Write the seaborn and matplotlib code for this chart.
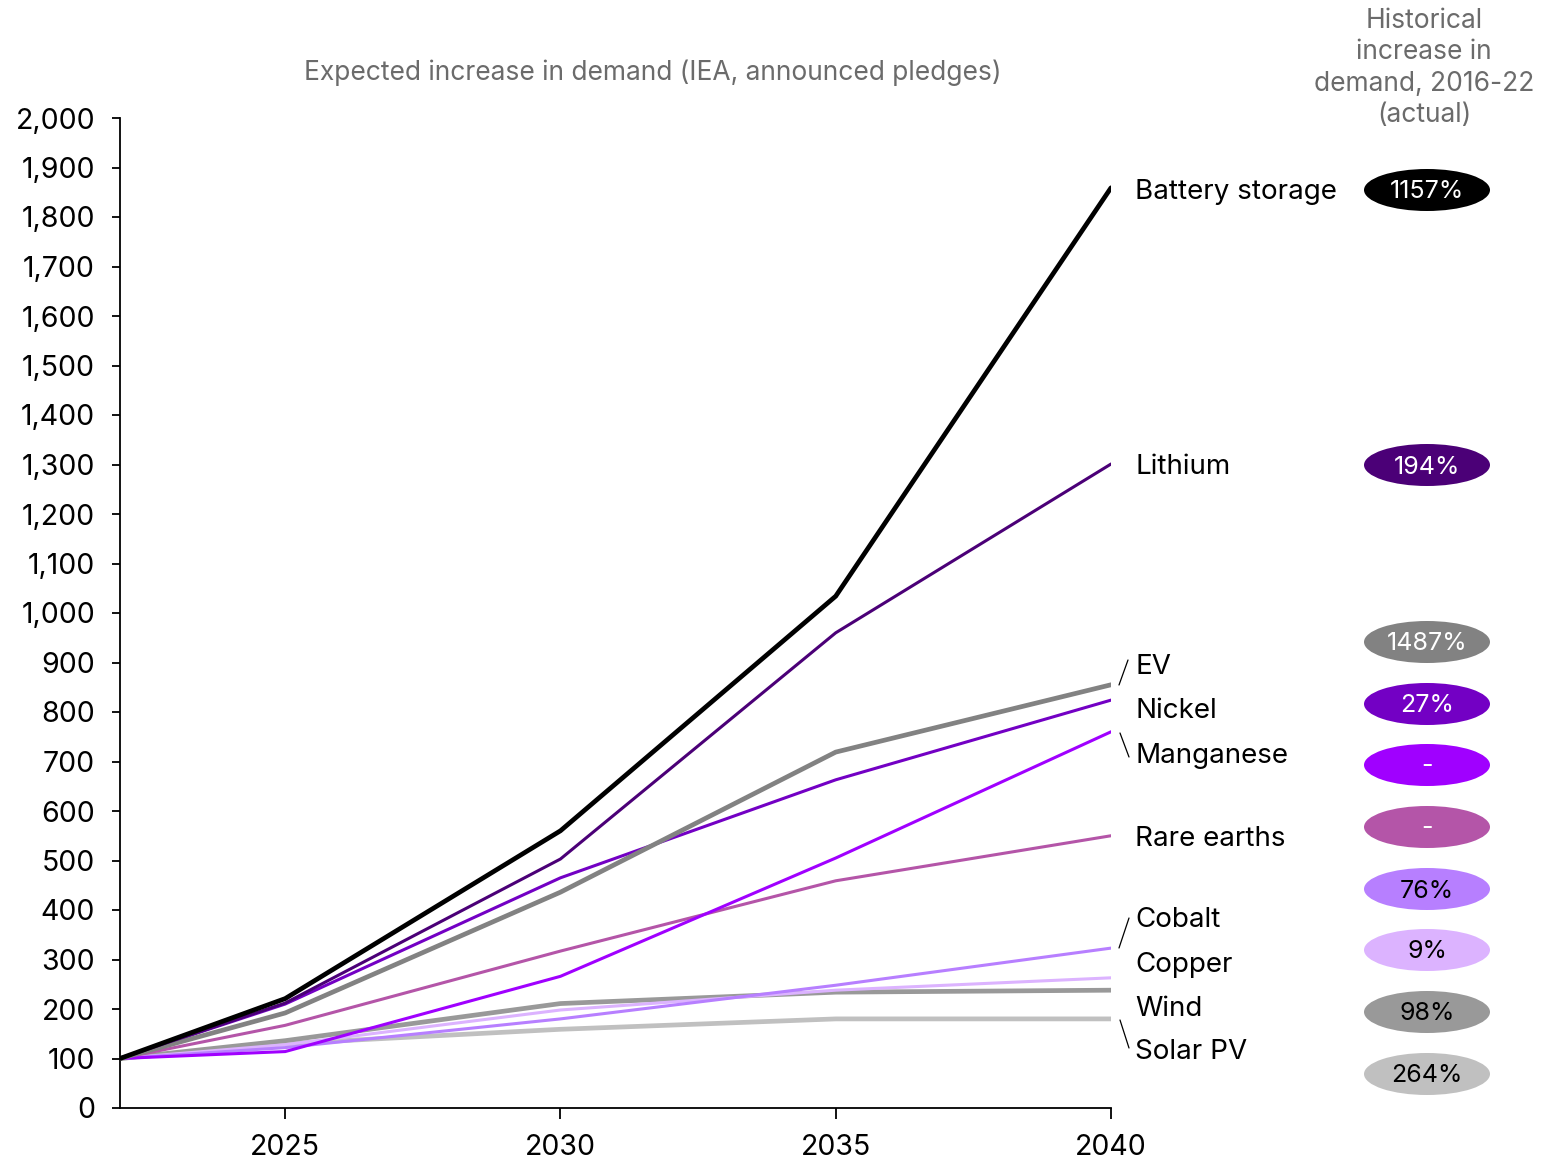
import seaborn as sns
import pandas as pd
import matplotlib.pyplot as plt
from matplotlib.patches import Ellipse
from matplotlib.lines import Line2D

years = [2022, 2025, 2030, 2035, 2040]

battery = [100, 221, 560, 1034, 1859]
lithium = [100, 212, 503, 960, 1301]
ev = [100, 192, 436, 719, 855]
nickel = [100, 210, 465, 663, 824]
manganese = [100, 114, 266, 505, 760]
rare_earths = [100, 167, 317, 459, 550]
cobalt = [100, 122, 180, 248, 323]
copper = [100, 128, 198, 238, 263]
wind = [100, 136, 211, 234, 238]
solar = [100, 130, 159, 180, 180]

names = ["Battery storage", "Lithium", "EV", "Nickel", "Manganese",
         "Rare earths", "Cobalt", "Copper", "Wind", "Solar PV"]
series = [battery, lithium, ev, nickel, manganese, rare_earths,
          cobalt, copper, wind, solar]
colors = ["#000000", "#4b0077", "#828282", "#7300c4", "#a000ff",
          "#b455a8", "#b77fff", "#dcb3ff", "#999999", "#c0c0c0"]
widths = [3.4, 2.2, 3.4, 2.2, 2.2, 2.2, 2.2, 2.2, 3.4, 3.4]

historical = ["1157%", "194%", "1487%", "27%", "-", "-", "76%", "9%", "98%", "264%"]
hist_text_col = ["white"] * 6 + ["black"] * 4

sns.set_theme(style="white")
plt.rcParams["font.family"] = ["Inter", "DejaVu Sans"]

W, H = 1547, 1159
fig = plt.figure(figsize=(W / 100, H / 100), dpi=100)
ax = fig.add_axes([120 / W, 1 - 1108 / H, (1111 - 120) / W, (1108 - 118) / H])

rows = []
for n, s in zip(names, series):
    for y, v in zip(years, s):
        rows.append({"year": y, "value": v, "series": n})
df = pd.DataFrame(rows)

# draw bottom series first so battery storage ends on top
for i in reversed(range(len(names))):
    sns.lineplot(data=df[df["series"] == names[i]], x="year", y="value",
                 color=colors[i], linewidth=widths[i], ax=ax,
                 solid_joinstyle="miter", zorder=3 + (len(names) - i))

ax.set_xlim(2022, 2040)
ax.set_ylim(0, 2000)
ax.set_xticks([2025, 2030, 2035, 2040])
ax.set_yticks(range(0, 2001, 100))
ax.set_yticklabels([f"{v:,}" for v in range(0, 2001, 100)])
ax.set_xlabel("")
ax.set_ylabel("")
for sp in ["top", "right"]:
    ax.spines[sp].set_visible(False)
for sp in ["left", "bottom"]:
    ax.spines[sp].set_color("black")
    ax.spines[sp].set_linewidth(1.3)
ax.tick_params(axis="y", left=True, length=6, width=1.3, labelsize=20.5,
               pad=12, colors="black")
ax.tick_params(axis="x", bottom=True, length=8, width=1.3, labelsize=20.5,
               pad=11, colors="black")
ax.patch.set_alpha(0)

# figure pixel helpers
def fx(px):
    return px / W

def fy(py):
    return 1 - py / H

fig.text(fx(653), fy(73), "Expected increase in demand (IEA, announced pledges)",
         ha="center", va="center", fontsize=19, color="#6b6b6b")
fig.text(fx(1424), fy(68), "Historical\nincrease in\ndemand, 2016-22\n(actual)",
         ha="center", va="center", fontsize=19, color="#6b6b6b",
         linespacing=1.28)

label_y = [192, 467, 667, 711, 756, 839, 920, 965, 1009, 1052]
for n, ly in zip(names, label_y):
    fig.text(fx(1135), fy(ly), n, ha="left", va="center", fontsize=20,
             color="black")

# leader lines
for (x0, y0, x1, y1) in [(1119, 685, 1128, 660), (1120, 733, 1129, 757),
                         (1119, 948, 1129, 918), (1120, 1020, 1129, 1048)]:
    fig.add_artist(Line2D([fx(x0), fx(x1)], [fy(y0), fy(y1)],
                          transform=fig.transFigure, color="black", lw=0.9))

ell_y = [190, 465, 642, 704, 765, 827, 889, 950, 1012, 1074]
for c, t, tc, ey in zip(colors, historical, hist_text_col, ell_y):
    fig.add_artist(Ellipse((fx(1427), fy(ey)), 126 / W, 42 / H,
                           transform=fig.transFigure, facecolor=c,
                           edgecolor="none"))
    fig.text(fx(1427), fy(ey + 2), t, ha="center", va="center", fontsize=18,
             color=tc)

plt.savefig("out.png", dpi=100)
